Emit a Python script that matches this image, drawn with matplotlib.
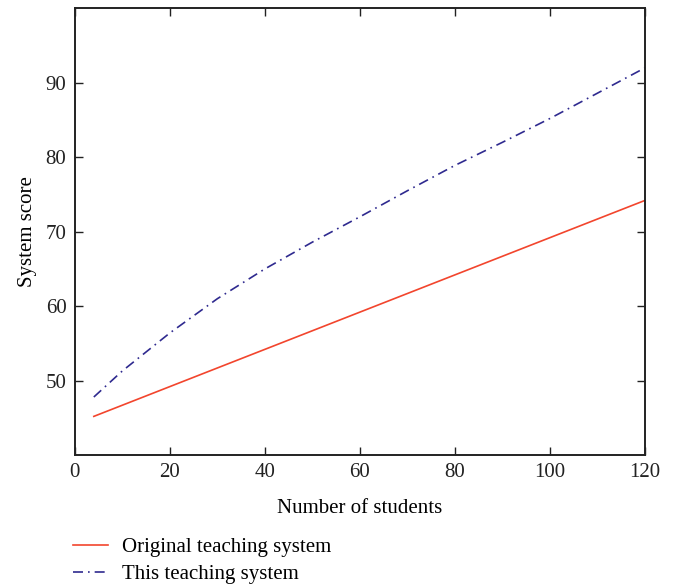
import matplotlib.pyplot as plt
from matplotlib.lines import Line2D

# data
students = [4, 10, 20, 30, 40, 50, 60, 70, 80, 90, 100, 110, 120]
original_score = [45.2, 46.7, 49.2, 51.7, 54.2, 56.7, 59.2, 61.7, 64.2, 66.7, 69.2, 71.7, 74.2]
this_score = [47.8, 51.3, 56.4, 61.0, 65.0, 68.6, 72.0, 75.5, 78.9, 82.0, 85.2, 88.6, 92.0]

plt.rcParams['font.family'] = ['Liberation Serif', 'DejaVu Serif']

fig = plt.figure(figsize=(6.74, 5.88), dpi=100)
ax = fig.add_axes([0.111, 0.226, 0.846, 0.760])

red = '#f2452d'
blue = '#2f2a8f'
ax.plot(students, original_score, color=red, lw=1.2)
ax.plot(students, this_score, color=blue, lw=1.2, dashes=(6, 3, 1, 3))

ax.set_xlim(0, 120)
ax.set_ylim(40, 100)
ax.set_xticks([0, 20, 40, 60, 80, 100, 120])
ax.set_yticks([50, 60, 70, 80, 90])
ax.tick_params(direction='in', length=6, width=1, top=True, right=True,
               labelsize=15, colors='#222222', pad=6)
for s in ax.spines.values():
    s.set_linewidth(1.4)
    s.set_color('#222222')

ax.set_xlabel('Number of students', fontsize=15, labelpad=12)
ax.set_ylabel('System score', fontsize=15, labelpad=6)

handles = [Line2D([], [], color=red, lw=1.2),
           Line2D([], [], color=blue, lw=1.2, dashes=(6, 3, 1, 3))]
fig.legend(handles, ['Original teaching system', 'This teaching system'],
           loc='upper left', bbox_to_anchor=(0.108, 0.086), frameon=False,
           fontsize=15, handlelength=1.7, handletextpad=0.65,
           labelspacing=0.36, borderpad=0, borderaxespad=0)

fig.savefig('out.png', dpi=100)
